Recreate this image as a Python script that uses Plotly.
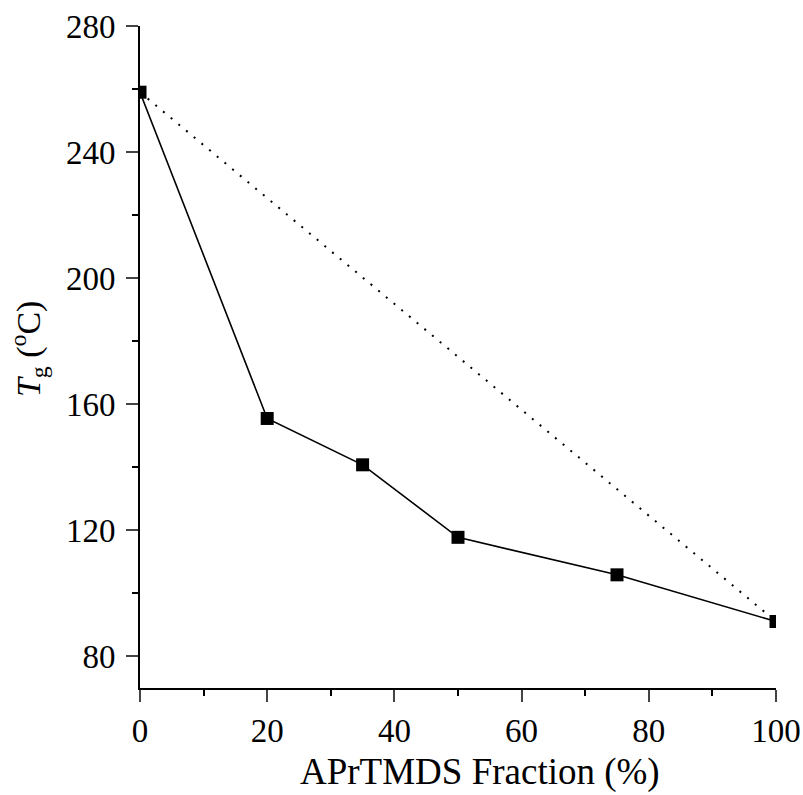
import plotly.graph_objects as go

fraction = [0, 20, 35, 50, 75, 100]
tg = [259, 155.5, 140.8, 117.8, 105.9, 91.1]
ideal_x = [0, 100]
ideal_y = [259, 91.1]

x_title = "APrTMDS Fraction (%)"
y_title = "<i>T</i><sub>g</sub> (<sup>o</sup>C)"

font_family = "Liberation Serif"

fig = go.Figure()
fig.add_trace(go.Scatter(x=ideal_x, y=ideal_y, mode="lines",
                         line=dict(color="black", width=2, dash="2px,8px"),
                         showlegend=False))
fig.add_trace(go.Scatter(x=fraction, y=tg, mode="lines+markers",
                         line=dict(color="black", width=1.6),
                         marker=dict(symbol="square", size=13, color="black"),
                         showlegend=False))

fig.update_layout(
    width=803, height=795,
    margin=dict(l=140, r=27, t=26, b=107),
    plot_bgcolor="white", paper_bgcolor="white",
    font=dict(family=font_family, size=33, color="black"),
    xaxis=dict(range=[0, 100], tickvals=[0, 20, 40, 60, 80, 100],
               ticks="outside", ticklen=12, tickwidth=2,
               showline=True, linewidth=2, linecolor="black",
               showgrid=False, zeroline=False, automargin=False,
               minor=dict(ticks="outside", ticklen=6, tickwidth=2, dtick=10, tickcolor="black"),
               tickfont=dict(size=33)),
    yaxis=dict(range=[70, 280], tickvals=[80, 120, 160, 200, 240, 280],
               ticks="outside", ticklen=12, tickwidth=2, ticklabelstandoff=4,
               showline=True, linewidth=2, linecolor="black",
               showgrid=False, zeroline=False, automargin=False,
               minor=dict(ticks="outside", ticklen=6, tickwidth=2, dtick=20, tickcolor="black"),
               tickfont=dict(size=33)),
    annotations=[
        dict(text=x_title, xref="paper", yref="paper", x=0.535, y=-0.1605,
             xanchor="center", yanchor="bottom", showarrow=False,
             font=dict(size=37), borderpad=0),
        dict(text=y_title, xref="paper", yref="paper", x=-0.176, y=0.512,
             xanchor="center", yanchor="middle", showarrow=False, textangle=-90,
             font=dict(size=34)),
    ],
)

fig.write_html("out.html")
